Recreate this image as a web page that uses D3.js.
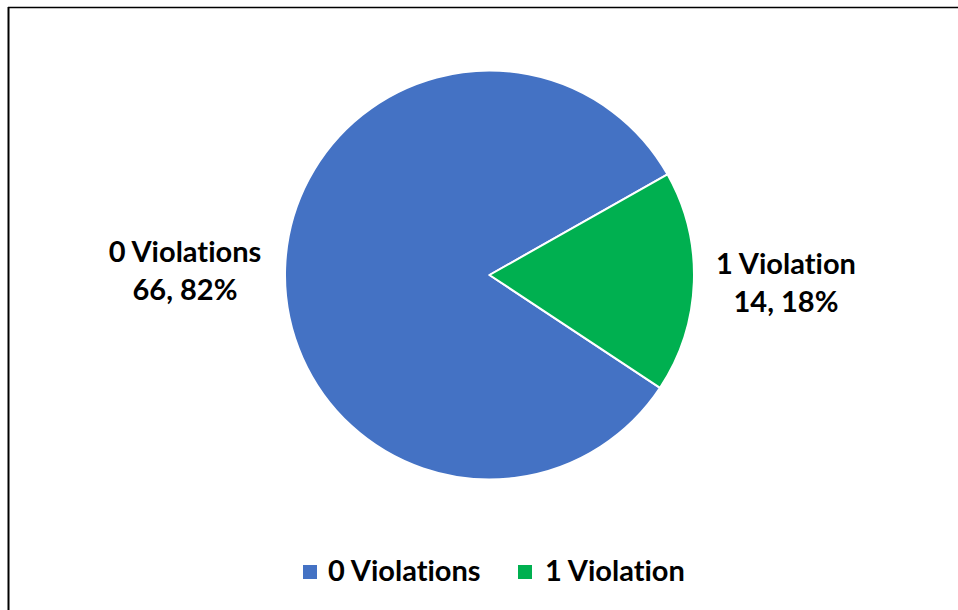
<!DOCTYPE html>
<html><head><meta charset="utf-8">
<script src="https://cdn.jsdelivr.net/npm/d3@7"></script>
<style>html,body{margin:0;padding:0;background:#fff;}svg{display:block;}text{font-variant-ligatures:none;font-feature-settings:"liga" 0;}</style>
</head><body>
<script>
const categories = ["0 Violations", "1 Violation"];
const values = [66, 14];
const percents = ["82%", "18%"];
const colors = ["#4472C4", "#00B050"];

const W = 958, H = 610;
const svg = d3.select("body").append("svg").attr("width", W).attr("height", H);
svg.append("rect").attr("width", W).attr("height", H).attr("fill", "#fff");
// chart border (top and left visible)
svg.append("line").attr("x1", 8).attr("y1", 7.5).attr("x2", W).attr("y2", 7.5).attr("stroke", "#000").attr("stroke-width", 1.5);
svg.append("line").attr("x1", 8.5).attr("y1", 7).attr("x2", 8.5).attr("y2", H).attr("stroke", "#000").attr("stroke-width", 2);

const cx = 489.5, cy = 275, r = 204.5;
const start = 123.5 * Math.PI / 180;
const pie = d3.pie().sort(null).value(d => d.v).startAngle(start).endAngle(start + 2 * Math.PI);
const data = categories.map((c, i) => ({c, v: values[i], p: percents[i], col: colors[i]}));
const arcs = pie(data);
const arc = d3.arc().innerRadius(0).outerRadius(r);
const g = svg.append("g").attr("transform", `translate(${cx},${cy})`);
g.selectAll("path").data(arcs).enter().append("path")
  .attr("d", arc).attr("fill", d => d.data.col)
  .attr("stroke", "#fff").attr("stroke-width", 2).attr("stroke-linejoin", "round");

const font = "Lato, 'Open Sans', sans-serif";
const fs = 29;
const labelPos = [[185, 262, 300], [786, 274, 312]];
arcs.forEach((a, i) => {
  const t = svg.append("text").attr("text-anchor", "middle")
    .attr("font-family", font).attr("font-weight", "bold").attr("font-size", fs).attr("fill", "#000");
  t.append("tspan").attr("x", labelPos[i][0]).attr("y", labelPos[i][1]).text(a.data.c);
  t.append("tspan").attr("x", labelPos[i][0]).attr("y", labelPos[i][2]).text(`${a.data.v}, ${a.data.p}`);
});

// legend
const leg = [[303, 328], [518, 545]];
data.forEach((d, i) => {
  svg.append("rect").attr("x", leg[i][0]).attr("y", 565).attr("width", 14).attr("height", 14).attr("fill", d.col);
  svg.append("text").attr("x", leg[i][1]).attr("y", 581)
    .attr("font-family", font).attr("font-weight", "bold").attr("font-size", fs).attr("fill", "#000").text(d.c);
});
</script>
</body></html>
